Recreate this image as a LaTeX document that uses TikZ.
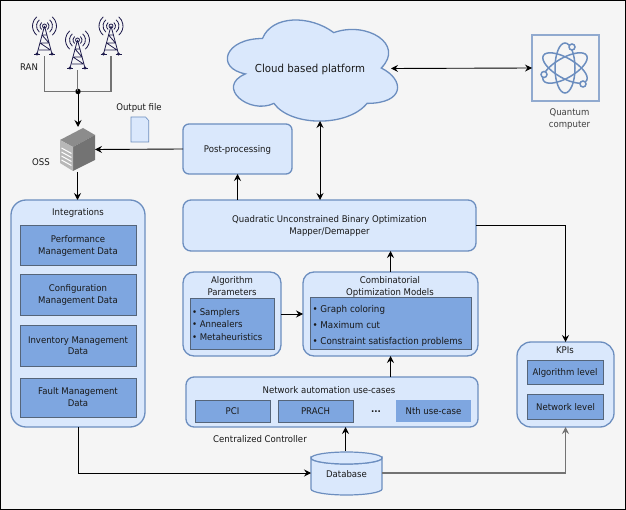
\documentclass[tikz,border=0pt]{standalone}
\usepackage{fontspec}
\setmainfont[FakeStretch=0.93]{DejaVu Sans}
\usetikzlibrary{arrows.meta,calc}
\definecolor{bgc}{HTML}{F5F5F5}
\definecolor{boxf}{HTML}{DAE8FC}
\definecolor{boxd}{HTML}{6C8EBF}
\definecolor{innf}{HTML}{7EA6E0}
\definecolor{innd}{HTML}{55657A}
\definecolor{navy}{HTML}{1E1B4B}
\tikzset{
  x=1pt,y=-1pt,
  every node/.style={font=\fontsize{9.2}{12}\selectfont,text=black!90,inner sep=0pt,outer sep=0pt},
  wh/.style 2 args={minimum width=#1pt,minimum height=#2pt},
  outerbox/.style={draw=boxd,fill=boxf,line width=1.3pt,rounded corners=#1,anchor=center},
  outerbox/.default=10pt,
  innerbox/.style={draw=innd,fill=innf,line width=0.9pt,align=center,anchor=center},
  lbl/.style={align=center},
  oneline/.style={text height=8.5pt,text depth=1pt},
  twoline/.style={text height=19.5pt,text depth=0.5pt},
  arr/.style={draw=black,line width=0.9pt,-{Stealth[length=7pt,width=7pt,inset=2.5pt]}},
  darr/.style={draw=black,line width=0.9pt,{Stealth[length=7pt,width=7pt,inset=2.5pt]}-{Stealth[length=7pt,width=7pt,inset=2.5pt]}},
  grayl/.style={draw=black!55,line width=1.4pt},
}
\newcommand{\towericon}[2]{%
  \begin{scope}[shift={(#1,#2)},draw=navy,line width=0.8pt]
    \draw (0,0) -- (-7.5,28) (0,0) -- (7.5,28);
    \draw (-2.5,9) -- (2.5,9) (-2.5,9) -- (4.5,17) (-4.5,17) -- (4.5,17) (-4.5,17) -- (6,24) (-6,24) -- (6,24);
    \draw (-10.5,28.5) -- (-4.5,28.5) (4.5,28.5) -- (10.5,28.5);
    \fill[navy] (-7.5,28) circle (1.6pt) (7.5,28) circle (1.6pt);
    \draw (0,0) circle (2pt);
    \foreach \r in {4.5,8,12}{
      \draw (130:\r) arc (130:230:\r);
      \draw (50:\r) arc (50:-50:\r);
    }
  \end{scope}}
\begin{document}
\begin{tikzpicture}
\useasboundingbox (0,0) rectangle (626,510);
\fill[bgc] (0,0) rectangle (626,510);
\draw[black,line width=1.5pt] (0.7,0.7) rectangle (625.3,509.3);

% RAN towers
\towericon{44.5}{26}
\towericon{77.5}{40}
\towericon{111}{26}
\node[minimum size=1pt] (t1) at (44.5,56) {};
\node[minimum size=1pt] (t2) at (77.5,70) {};
\node[minimum size=1pt] (t3) at (111,56) {};
\node[lbl] (ran) at (29,67.5) {RAN};
\node[circle,fill=black,minimum size=5.5pt] (dot) at (78,91.5) {};
\draw[grayl] (t1) |- (dot);
\draw[grayl] (t3) |- (dot);
\draw[grayl] (t2) -- (t2 |- dot);

% OSS
\node[wh={35}{45}] (oss) at (77.5,149.5) {};
\fill[black!45] (60,140) -- (83,128) -- (95,135) -- (73,147) -- cycle;
\fill[black!55] (73,147) -- (95,135) -- (95,160) -- (73,171) -- cycle;
\fill[black!28] (60,140) -- (73,147) -- (73,171) -- (60,163) -- cycle;
\foreach \d in {7,11,15,19}{\draw[white,line width=1pt] (61.5,141+\d) -- (71.5,146.5+\d);}
\node[lbl] (osslab) at (41,162.5) {OSS};
\draw[arr] (dot) -- (oss.north -| dot);
\node[lbl] (ofl) at (139,108) {Output file};
\node[wh={18}{25}] (ofi) at (140,129.5) {};
\draw[draw=boxd,fill=boxf,line width=0.6pt] (131,117) -- (145.5,117) -- (148.7,120.5) -- (148.7,142) -- (131,142) -- cycle;

% Cloud
\def\cx{215}\def\cy{9}\def\cw{190}\def\ch{118}
\draw[draw=boxd,fill=boxf,line width=1.3pt]
 (\cx+0.25*\cw,\cy+0.25*\ch)
 .. controls (\cx+0.05*\cw,\cy+0.25*\ch) and (\cx,\cy+0.5*\ch) .. (\cx+0.16*\cw,\cy+0.55*\ch)
 .. controls (\cx,\cy+0.66*\ch) and (\cx+0.18*\cw,\cy+0.9*\ch) .. (\cx+0.31*\cw,\cy+0.8*\ch)
 .. controls (\cx+0.4*\cw,\cy+\ch) and (\cx+0.7*\cw,\cy+\ch) .. (\cx+0.8*\cw,\cy+0.8*\ch)
 .. controls (\cx+\cw,\cy+0.8*\ch) and (\cx+\cw,\cy+0.6*\ch) .. (\cx+0.875*\cw,\cy+0.5*\ch)
 .. controls (\cx+\cw,\cy+0.3*\ch) and (\cx+0.8*\cw,\cy+0.1*\ch) .. (\cx+0.625*\cw,\cy+0.2*\ch)
 .. controls (\cx+0.5*\cw,\cy+0.05*\ch) and (\cx+0.3*\cw,\cy+0.05*\ch) .. (\cx+0.25*\cw,\cy+0.25*\ch) -- cycle;
\node[lbl,font=\fontsize{11}{13}\selectfont] (cloud) at (310,69) {Cloud based platform};
\coordinate (cloudE) at (391,68.5);
\coordinate (cloudS) at (320,121);

% Quantum computer
\node[draw=boxd!75,fill=bgc,line width=1.6pt,wh={67}{66}] (qc) at (565.5,68) {};
\begin{scope}[draw=boxd,line width=1.5pt]
  \draw (565,68) ellipse [x radius=25,y radius=10,rotate=-30];
  \draw (565,68) ellipse [x radius=25,y radius=10,rotate=30];
  \draw (565,68) ellipse [x radius=10,y radius=25];
  \draw[fill=bgc] (572,47) circle (3pt);
  \draw[fill=bgc] (544,74.5) circle (3pt);
  \draw[fill=bgc] (583,84) circle (3pt);
\end{scope}
\node[lbl,text=black!75] (qcl) at (569.5,119.5) {Quantum\\computer};
\draw[darr] (cloudE) -- (qc.west);

% Post-processing
\node[outerbox=6pt,oneline,wh={109}{50}] (post) at (237.5,149) {Post-processing};
\draw[arr] (post.west) -- (oss.east);

% QUBO
\node[outerbox=8pt,twoline,align=center,wh={293}{51}] (qubo) at (329.5,225.5) {Quadratic Unconstrained Binary Optimization\\Mapper/Demapper};
\draw[darr] (cloudS) -- (cloudS |- qubo.north);
\draw[arr] (qubo.north -| post.south) -- (post.south);

% Integrations
\node[outerbox=15pt,wh={134}{227}] (integ) at (78,313.5) {};
\node[lbl] (integl) at (78,212.5) {Integrations};
\node[innerbox,twoline,wh={116}{40}] (pm) at (78,245) {Performance\\Management Data};
\node[innerbox,twoline,wh={116}{41}] (cm) at (78,294.5) {Configuration\\Management Data};
\node[innerbox,twoline,wh={116}{41}] (im) at (78,345.5) {Inventory Management\\Data};
\node[innerbox,wh={116}{39}] (fm) at (78,397.5) {Fault Management\\Data};
\draw[arr] (oss.south) -- (oss.south |- integ.north);

% Algorithm parameters
\node[outerbox=11pt,wh={98}{84}] (algo) at (232,314) {};
\node[lbl] (algol) at (232,286) {Algorithm\\Parameters};
\node[innerbox,wh={84}{51}] (algoi) at (232,323.5) {};
\node[align=left,anchor=west,font=\fontsize{9.2}{12.4}\selectfont] (algot) at (192,324.5) {• Samplers\\• Annealers\\• Metaheuristics};

% Combinatorial
\node[outerbox=11pt,wh={175}{84}] (comb) at (390.5,314) {};
\node[lbl] (combl) at (390,286.5) {Combinatorial\\Optimization Models};
\node[innerbox,wh={161}{52}] (combi) at (390.5,323) {};
\node[align=left,anchor=west,font=\fontsize{9.4}{16}\selectfont] (combt) at (312.5,326) {• Graph coloring\\• Maximum cut\\• Constraint satisfaction problems};
\draw[arr] (comb.north) -- (comb.north |- qubo.south);
\draw[arr] (algo.east) -- (algo.east -| comb.west);

% Network automation
\node[outerbox=8pt,wh={292}{50}] (net) at (332,402) {};
\node[lbl] (netl) at (329,390) {Network automation use-cases};
\node[innerbox,oneline,wh={75}{22}] (pci) at (232.5,411) {PCI};
\node[innerbox,oneline,wh={75}{22}] (prach) at (315.5,411) {PRACH};
\node[lbl] (dots) at (376,412) {\textbf{...}};
\node[innerbox,oneline,draw=none,wh={75}{22}] (nth) at (433.5,411) {Nth use-case};
\node[lbl] (ccl) at (260,439) {Centralized Controller};
\draw[arr] (net.north -| comb.south) -- (comb.south);

% Database
\node[wh={71}{44}] (db) at (346.5,473) {};
\draw[draw=boxd,fill=boxf,line width=1.2pt] (311,458) arc [start angle=180,end angle=0,x radius=35.5,y radius=6] -- (382,489) arc [start angle=0,end angle=180,x radius=35.5,y radius=6] -- cycle;
\draw[draw=boxd,fill=boxf,line width=1.2pt] (346.5,458) ellipse [x radius=35.5,y radius=6];
\node[lbl] (dbl) at (346.5,474) {Database};
\coordinate (dbtop) at ($(db.north)+(-1,0)$);
\draw[arr] (dbtop) -- (dbtop |- net.south);
\draw[arr] (integ.south) |- (db.west);

% KPIs
\node[outerbox=14pt,wh={97}{85}] (kpi) at (565.5,384.5) {};
\node[lbl] (kpil) at (565,350.5) {KPIs};
\node[innerbox,oneline,wh={76}{24}] (alg) at (565,372) {Algorithm level};
\node[innerbox,oneline,wh={76}{25}] (nwl) at (565.5,406.5) {Network level};
\draw[arr] (qubo.east) -| (kpi.north);
\coordinate (kpiin) at ($(kpi.south)+(0,6)$);
\draw[grayl] (db.east) -| (kpiin);
\draw[arr,draw=black!55] (kpiin) -- (kpi.south);
\end{tikzpicture}
\end{document}
